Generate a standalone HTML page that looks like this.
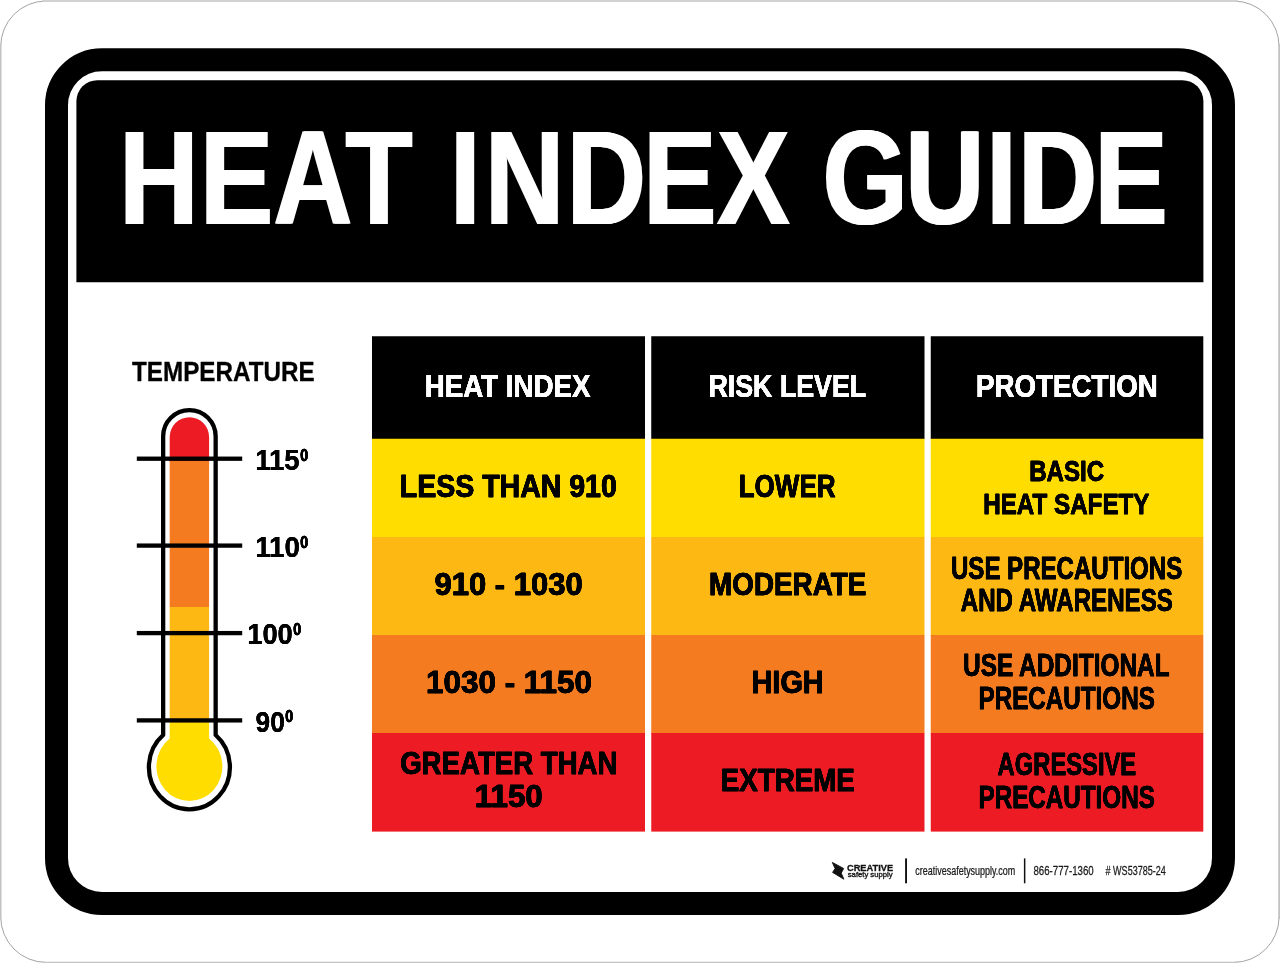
<!DOCTYPE html>
<html lang="en"><head><meta charset="utf-8"><title>Heat Index Guide</title>
<style>
html,body{margin:0;padding:0;background:#fff;}
body{width:1280px;height:963px;overflow:hidden;}
svg{display:block;font-family:"Liberation Sans",sans-serif;}
svg text{white-space:pre;}
</style></head><body>
<svg width="1280" height="963" viewBox="0 0 1280 963">
<defs><filter id="hx200" x="-5%" y="-5%" width="110%" height="110%"><feOffset in="SourceGraphic" dx="1.000" dy="0" result="a"/><feOffset in="SourceGraphic" dx="-1.000" dy="0" result="b"/><feMerge><feMergeNode in="a"/><feMergeNode in="b"/><feMergeNode in="SourceGraphic"/></feMerge></filter><filter id="hx33" x="-5%" y="-5%" width="110%" height="110%"><feOffset in="SourceGraphic" dx="0.165" dy="0" result="a"/><feOffset in="SourceGraphic" dx="-0.165" dy="0" result="b"/><feMerge><feMergeNode in="a"/><feMergeNode in="b"/><feMergeNode in="SourceGraphic"/></feMerge></filter><filter id="hx55" x="-5%" y="-5%" width="110%" height="110%"><feOffset in="SourceGraphic" dx="0.275" dy="0" result="a"/><feOffset in="SourceGraphic" dx="-0.275" dy="0" result="b"/><feMerge><feMergeNode in="a"/><feMergeNode in="b"/><feMergeNode in="SourceGraphic"/></feMerge></filter><filter id="hx30" x="-5%" y="-5%" width="110%" height="110%"><feOffset in="SourceGraphic" dx="0.150" dy="0" result="a"/><feOffset in="SourceGraphic" dx="-0.150" dy="0" result="b"/><feMerge><feMergeNode in="a"/><feMergeNode in="b"/><feMergeNode in="SourceGraphic"/></feMerge></filter><filter id="hx40" x="-5%" y="-5%" width="110%" height="110%"><feOffset in="SourceGraphic" dx="0.200" dy="0" result="a"/><feOffset in="SourceGraphic" dx="-0.200" dy="0" result="b"/><feMerge><feMergeNode in="a"/><feMergeNode in="b"/><feMergeNode in="SourceGraphic"/></feMerge></filter><filter id="hx45" x="-5%" y="-5%" width="110%" height="110%"><feOffset in="SourceGraphic" dx="0.225" dy="0" result="a"/><feOffset in="SourceGraphic" dx="-0.225" dy="0" result="b"/><feMerge><feMergeNode in="a"/><feMergeNode in="b"/><feMergeNode in="SourceGraphic"/></feMerge></filter></defs>
<rect x="0.7" y="1" width="1278.4" height="961.4" rx="45.5" ry="45.5" fill="#fff" stroke="#96989a" stroke-width="0.9"/>
<rect x="42" y="0" width="1196" height="1.8" fill="#d0d2d3"/>
<rect x="42" y="961.9" width="1196" height="1.1" fill="#c3c5c7"/>
<rect x="0" y="44" width="1.3" height="875" fill="#c0c2c4"/>
<rect x="1278.6" y="44" width="1.4" height="875" fill="#c0c2c4"/>
<rect x="56.5" y="59.7" width="1167" height="843.8" rx="45.5" ry="45.5" fill="none" stroke="#000" stroke-width="23"/>
<path d="M76.4 282.3 V101.2 A21 21 0 0 1 97.4 80.2 H1182.4 A21 21 0 0 1 1203.4 101.2 V282.3 Z" fill="#000"/>
<g filter="url(#hx200)"><text transform="translate(0 224.35) scale(0.8172 1)" x="145.89 244.65 334.51 422.78" font-size="134.25" font-weight="700" fill="#fff">HEAT</text></g>
<g filter="url(#hx200)"><text transform="translate(0 224.35) scale(0.8172 1)" x="550.77 593.46 693.66 787.07 876.96" font-size="134.25" font-weight="700" fill="#fff">INDEX</text></g>
<g filter="url(#hx200)"><text transform="translate(0 224.35) scale(0.8172 1)" x="1006.61 1107.78 1206.80 1245.80 1339.45" font-size="134.25" font-weight="700" fill="#fff">GUIDE</text></g>
<rect x="372" y="336.25" width="273" height="102.80" fill="#000"/>
<rect x="372" y="438.75" width="273" height="98.55" fill="#FFDD00"/>
<rect x="372" y="537" width="273" height="98.30" fill="#FDB813"/>
<rect x="372" y="635" width="273" height="98.30" fill="#F47B20"/>
<rect x="372" y="733" width="273" height="98.60" fill="#ED1C24"/>
<rect x="651.25" y="336.25" width="273.25" height="102.80" fill="#000"/>
<rect x="651.25" y="438.75" width="273.25" height="98.55" fill="#FFDD00"/>
<rect x="651.25" y="537" width="273.25" height="98.30" fill="#FDB813"/>
<rect x="651.25" y="635" width="273.25" height="98.30" fill="#F47B20"/>
<rect x="651.25" y="733" width="273.25" height="98.60" fill="#ED1C24"/>
<rect x="930.75" y="336.25" width="272.54999999999995" height="102.80" fill="#000"/>
<rect x="930.75" y="438.75" width="272.54999999999995" height="98.55" fill="#FFDD00"/>
<rect x="930.75" y="537" width="272.54999999999995" height="98.30" fill="#FDB813"/>
<rect x="930.75" y="635" width="272.54999999999995" height="98.30" fill="#F47B20"/>
<rect x="930.75" y="733" width="272.54999999999995" height="98.60" fill="#ED1C24"/>
<g filter="url(#hx33)"><text transform="translate(424.66 396.88) scale(0.8969 1)" font-size="30.91" font-weight="700" fill="#fff" stroke="#fff" stroke-width="0.25" stroke-linejoin="round">HEAT INDEX</text></g>
<g filter="url(#hx33)"><text transform="translate(708.46 396.88) scale(0.8669 1)" font-size="30.91" font-weight="700" fill="#fff" stroke="#fff" stroke-width="0.25" stroke-linejoin="round">RISK LEVEL</text></g>
<g filter="url(#hx33)"><text transform="translate(975.90 396.88) scale(0.8980 1)" font-size="30.91" font-weight="700" fill="#fff" stroke="#fff" stroke-width="0.25" stroke-linejoin="round">PROTECTION</text></g>
<g filter="url(#hx55)"><text transform="translate(399.83 497.25) scale(0.9118 1)" font-size="31.27" font-weight="700" fill="#000" stroke="#000" stroke-width="0.50" stroke-linejoin="round">LESS THAN 910</text></g>
<g filter="url(#hx55)"><text transform="translate(434.44 595.05) scale(0.9920 1)" font-size="31.27" font-weight="700" fill="#000" stroke="#000" stroke-width="0.50" stroke-linejoin="round">910 - 1030</text></g>
<g filter="url(#hx55)"><text transform="translate(426.06 692.75) scale(1.0044 1)" font-size="31.27" font-weight="700" fill="#000" stroke="#000" stroke-width="0.50" stroke-linejoin="round">1030 - 1150</text></g>
<g filter="url(#hx55)"><text transform="translate(400.14 774.45) scale(0.8961 1)" font-size="30.84" font-weight="700" fill="#000" stroke="#000" stroke-width="0.50" stroke-linejoin="round">GREATER THAN</text></g>
<g filter="url(#hx55)"><text transform="translate(474.82 807.45) scale(1.0159 1)" font-size="30.84" font-weight="700" fill="#000" stroke="#000" stroke-width="0.50" stroke-linejoin="round">1150</text></g>
<g filter="url(#hx55)"><text transform="translate(738.73 497.25) scale(0.8322 1)" font-size="31.27" font-weight="700" fill="#000" stroke="#000" stroke-width="0.50" stroke-linejoin="round">LOWER</text></g>
<g filter="url(#hx55)"><text transform="translate(709.02 595.25) scale(0.8912 1)" font-size="31.27" font-weight="700" fill="#000" stroke="#000" stroke-width="0.50" stroke-linejoin="round">MODERATE</text></g>
<g filter="url(#hx55)"><text transform="translate(751.56 692.75) scale(0.9220 1)" font-size="31.27" font-weight="700" fill="#000" stroke="#000" stroke-width="0.50" stroke-linejoin="round">HIGH</text></g>
<g filter="url(#hx55)"><text transform="translate(720.82 791.25) scale(0.8868 1)" font-size="31.27" font-weight="700" fill="#000" stroke="#000" stroke-width="0.50" stroke-linejoin="round">EXTREME</text></g>
<g filter="url(#hx30)"><text transform="translate(1029.18 480.80) scale(0.7918 1)" font-size="30.40" font-weight="700" fill="#000" stroke="#000" stroke-width="0.40" stroke-linejoin="round">BASIC</text></g>
<g filter="url(#hx30)"><text transform="translate(983.17 513.60) scale(0.7967 1)" font-size="30.40" font-weight="700" fill="#000" stroke="#000" stroke-width="0.40" stroke-linejoin="round">HEAT SAFETY</text></g>
<g filter="url(#hx30)"><text transform="translate(950.96 578.80) scale(0.7843 1)" font-size="30.69" font-weight="700" fill="#000" stroke="#000" stroke-width="0.40" stroke-linejoin="round">USE PRECAUTIONS</text></g>
<g filter="url(#hx30)"><text transform="translate(960.80 611.30) scale(0.7857 1)" font-size="30.69" font-weight="700" fill="#000" stroke="#000" stroke-width="0.40" stroke-linejoin="round">AND AWARENESS</text></g>
<g filter="url(#hx30)"><text transform="translate(963.04 676.30) scale(0.7954 1)" font-size="30.69" font-weight="700" fill="#000" stroke="#000" stroke-width="0.40" stroke-linejoin="round">USE ADDITIONAL</text></g>
<g filter="url(#hx30)"><text transform="translate(978.47 709.00) scale(0.7899 1)" font-size="30.69" font-weight="700" fill="#000" stroke="#000" stroke-width="0.40" stroke-linejoin="round">PRECAUTIONS</text></g>
<g filter="url(#hx30)"><text transform="translate(997.61 774.80) scale(0.7741 1)" font-size="30.69" font-weight="700" fill="#000" stroke="#000" stroke-width="0.40" stroke-linejoin="round">AGRESSIVE</text></g>
<g filter="url(#hx30)"><text transform="translate(978.47 807.60) scale(0.7899 1)" font-size="30.69" font-weight="700" fill="#000" stroke="#000" stroke-width="0.40" stroke-linejoin="round">PRECAUTIONS</text></g>
<text transform="translate(131.99 381.25) scale(0.8553 1)" font-size="28.36" font-weight="700" fill="#000" stroke="#000" stroke-width="0.30" stroke-linejoin="round">TEMPERATURE</text>
<defs><clipPath id="tf"><path d="M169.7 437 A19.7 19.7 0 0 1 209.1 437 V738.47 A33 34.7 0 1 1 169.7 738.47 Z"/></clipPath></defs>
<g clip-path="url(#tf)">
<rect x="150" y="410" width="80" height="52" fill="#ED1C24"/>
<rect x="150" y="461" width="80" height="146" fill="#F47B20"/>
<rect x="150" y="607" width="80" height="116" fill="#FDB813"/>
<rect x="150" y="722.5" width="80" height="90" fill="#FFDD00"/>
</g>
<path d="M163.15 735 V436.3 A26.25 26.25 0 0 1 215.65 436.3 V735 A40.5 42.2 0 1 1 163.15 735 Z" fill="none" stroke="#000" stroke-width="4.3" stroke-linejoin="round"/>
<rect x="136.8" y="456.55" width="105.4" height="4.3" fill="#000"/>
<rect x="136.8" y="543.45" width="105.4" height="4.3" fill="#000"/>
<rect x="136.8" y="630.95" width="105.4" height="4.3" fill="#000"/>
<rect x="136.8" y="718.25" width="105.4" height="4.3" fill="#000"/>
<g filter="url(#hx40)"><text transform="translate(255.18 469.90) scale(0.9485 1)" font-size="28.95" font-weight="700" fill="#000">115</text></g>
<g filter="url(#hx45)"><text transform="translate(300.25 460.77) scale(0.8528 1)" font-size="16.70" font-weight="700" fill="#000" stroke="#000" stroke-width="0.45" stroke-linejoin="round">0</text></g>
<g filter="url(#hx40)"><text transform="translate(255.17 556.80) scale(0.9564 1)" font-size="28.95" font-weight="700" fill="#000">110</text></g>
<g filter="url(#hx45)"><text transform="translate(300.25 547.67) scale(0.8528 1)" font-size="16.70" font-weight="700" fill="#000" stroke="#000" stroke-width="0.45" stroke-linejoin="round">0</text></g>
<g filter="url(#hx40)"><text transform="translate(247.19 644.30) scale(0.9448 1)" font-size="28.95" font-weight="700" fill="#000">100</text></g>
<g filter="url(#hx45)"><text transform="translate(293.25 635.17) scale(0.8528 1)" font-size="16.70" font-weight="700" fill="#000" stroke="#000" stroke-width="0.45" stroke-linejoin="round">0</text></g>
<g filter="url(#hx40)"><text transform="translate(255.48 731.60) scale(0.9113 1)" font-size="28.95" font-weight="700" fill="#000">90</text></g>
<g filter="url(#hx45)"><text transform="translate(285.25 722.48) scale(0.8528 1)" font-size="16.70" font-weight="700" fill="#000" stroke="#000" stroke-width="0.45" stroke-linejoin="round">0</text></g>
<path d="M832.3 862.4 L843.7 868.5 L841.2 873.1 L843.9 879.2 L832.6 872.4 L835.1 868.4 Z" fill="#111" stroke="#111" stroke-width="0.9" stroke-linejoin="round"/>
<text transform="translate(846.97 870.65) scale(0.9506 1)" font-size="9.75" font-weight="700" fill="#111" stroke="#111" stroke-width="0.30" stroke-linejoin="round">CREATIVE</text>
<text transform="translate(847.78 876.53) scale(1.1102 1)" font-size="6.92" font-weight="400" fill="#1a1a1a" stroke="#1a1a1a" stroke-width="0.35" stroke-linejoin="round">safety supply</text>
<rect x="905.1" y="858.4" width="1.9" height="24.9" fill="#111"/>
<rect x="1023.9" y="858.4" width="1.5" height="24.9" fill="#111"/>
<text transform="translate(915.31 874.58) scale(0.7574 1)" font-size="11.85" font-weight="400" fill="#1a1a1a" stroke="#1a1a1a" stroke-width="0.25" stroke-linejoin="round">creativesafetysupply.com</text>
<text transform="translate(1033.49 874.58) scale(0.7969 1)" font-size="12.15" font-weight="400" fill="#1a1a1a" stroke="#1a1a1a" stroke-width="0.25" stroke-linejoin="round">866-777-1360</text>
<text transform="translate(1105.55 874.58) scale(0.7444 1)" font-size="12.15" font-weight="400" fill="#1a1a1a" stroke="#1a1a1a" stroke-width="0.25" stroke-linejoin="round"># WS53785-24</text>
</svg>
</body></html>
